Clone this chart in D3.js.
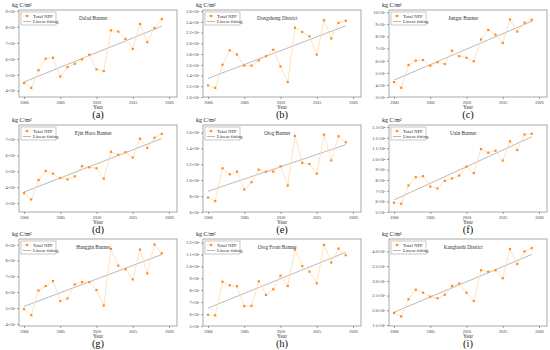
<!DOCTYPE html>
<html>
<head>
<meta charset="utf-8">
<script src="https://cdn.jsdelivr.net/npm/d3@7"></script>
<style>
  body { margin: 0; background: #fff; }
  svg, svg text { font-family: "Liberation Serif", "DejaVu Serif", serif; }
  .axis path, .axis line { stroke: #444; stroke-width: 0.5px; }
  .axis text { font-size: 4.2px; fill: #333; font-family: "Liberation Serif", serif; }
</style>
</head>
<body>
<div id="chart"></div>
<script>
// years on the x axis
var years = [2000, 2001, 2002, 2003, 2004, 2005, 2006, 2007, 2008, 2009,
             2010, 2011, 2012, 2013, 2014, 2015, 2016, 2017, 2018, 2019];

// total NPP per region (mantissa, see exponent below)
var dalad = [4.48, 4.17, 5.28, 6.0, 6.06, 4.88, 5.47, 5.68, 5.96, 6.25,
             5.33, 5.22, 7.77, 7.7, 7.24, 6.61, 8.17, 7.03, 7.92, 8.48];
var dongsheng = [1.215, 1.17, 1.6, 1.87, 1.79, 1.585, 1.585, 1.68, 1.76, 1.88,
                 1.57, 1.28, 2.29, 2.21, 2.13, 1.79, 2.43, 2.09, 2.38, 2.42];
var jungar = [4.23, 3.76, 5.64, 6.0, 6.05, 5.58, 5.87, 5.72, 6.81, 6.37,
              6.24, 5.95, 7.75, 8.53, 8.14, 7.46, 9.4, 8.4, 9.14, 9.37];
var ejinHoro = [3.63, 3.23, 4.45, 5.02, 4.85, 4.58, 4.49, 4.68, 5.32, 5.25,
                5.19, 4.54, 6.22, 6.03, 6.2, 5.86, 7.04, 6.47, 7.1, 7.34];
var otog = [0.783, 0.738, 1.15, 1.075, 1.108, 0.883, 0.975, 1.133, 1.108, 1.108,
            1.175, 0.933, 1.558, 1.22, 1.204, 1.083, 1.575, 1.25, 1.554, 1.479];
var uxin = [0.588, 0.578, 0.75, 0.828, 0.838, 0.74, 0.722, 0.794, 0.816, 0.844,
            0.928, 0.866, 1.094, 1.059, 1.078, 0.984, 1.166, 1.084, 1.231, 1.238];
var hanggin = [4.93, 4.55, 6.11, 6.39, 6.71, 5.44, 5.61, 6.49, 6.64, 6.64,
               6.14, 5.16, 8.74, 7.68, 7.45, 6.81, 8.69, 7.19, 9.01, 8.46];
var otogFront = [0.594, 0.589, 0.872, 0.842, 0.833, 0.667, 0.669, 0.875, 0.761, 0.808,
                 0.922, 0.836, 1.142, 1.003, 0.956, 0.858, 1.181, 1.033, 1.15, 1.094];
var kangbashi = [1.91, 1.795, 2.375, 2.70, 2.60, 2.466, 2.41, 2.53, 2.83, 2.91,
                 2.60, 2.32, 3.36, 3.31, 3.36, 3.09, 4.08, 3.57, 4.0, 4.11];

// panel names, letters and y axis settings
var names = ["Dalad Banner", "Dongsheng District", "Jungar Banner",
             "Ejin Horo Banner", "Otog Banner", "Uxin Banner",
             "Hanggin Banner", "Otog Front Banner", "Kangbashi District"];
var letters = ["(a)", "(b)", "(c)", "(d)", "(e)", "(f)", "(g)", "(h)", "(i)"];
var series = [dalad, dongsheng, jungar, ejinHoro, otog, uxin, hanggin, otogFront, kangbashi];
var exponents = [7, 7, 7, 7, 8, 8, 7, 8, 6];
var yDomains = [[3.6, 9.05], [1.0, 2.62], [3.0, 10.18], [2.45, 7.9], [0.6, 1.696],
                [0.5, 1.32], [3.87, 9.36], [0.5, 1.23], [1.47, 4.42]];
var yTicks = [[4, 5, 6, 7, 8, 9],
              [1.0, 1.2, 1.4, 1.6, 1.8, 2.0, 2.2, 2.4, 2.6],
              [3, 4, 5, 6, 7, 8, 9, 10],
              [3, 4, 5, 6, 7],
              [0.6, 0.8, 1.0, 1.2, 1.4, 1.6],
              [0.5, 0.6, 0.7, 0.8, 0.9, 1.0, 1.1, 1.2, 1.3],
              [4, 5, 6, 7, 8, 9],
              [0.5, 0.6, 0.7, 0.8, 0.9, 1.0, 1.1, 1.2],
              [1.5, 2.0, 2.5, 3.0, 3.5, 4.0]];
var xTicks = [2000, 2005, 2010, 2015, 2020];

var width = 550, height = 350;
var colLeft = [19, 203, 389], rowTop = [10, 125, 239];
var plotW = 158, plotH = 87;

var orange = "#ff8a1c", lightOrange = "#ffdcae", fitGray = "#a8a8a8";
var sup = {"0": "⁰", "1": "¹", "2": "²", "3": "³", "4": "⁴", "5": "⁵",
           "6": "⁶", "7": "⁷", "8": "⁸", "9": "⁹"};

var svg = d3.select("#chart").append("svg")
  .attr("width", width)
  .attr("height", height);

// tick label like 2.4×10⁷, drops to the next exponent below 1
function sciLabel(v, e, decimals) {
  if (v < 1 && e > 0) { v = v * 10; e = e - 1; decimals = 0; }
  return d3.format("." + decimals + "f")(v) + "×10" + sup[String(e)];
}

function drawPanel(i) {
  var left = colLeft[i % 3], top = rowTop[Math.floor(i / 3)];
  var vals = series[i];
  var decimals = yTicks[i].some(function(t) { return t % 1 !== 0; }) ? 1 : 0;

  var x = d3.scaleLinear().domain([2000, 2020]).range([left + 5, left + 150]);
  var y = d3.scaleLinear().domain(yDomains[i]).range([top + plotH, top]);

  var g = svg.append("g");

  // frame
  g.append("rect")
    .attr("x", left).attr("y", top)
    .attr("width", plotW).attr("height", plotH)
    .attr("fill", "none").attr("stroke", "#555").attr("stroke-width", 0.5);

  // axes
  var xa = g.append("g")
    .attr("class", "axis")
    .attr("transform", "translate(0," + (top + plotH) + ")")
    .call(d3.axisBottom(x).tickValues(xTicks).tickSize(2).tickPadding(2.5)
      .tickFormat(d3.format("d")));
  xa.select(".domain").remove();
  xa.attr("font-family", null);

  var ya = g.append("g")
    .attr("class", "axis")
    .attr("transform", "translate(" + left + ",0)")
    .call(d3.axisLeft(y).tickValues(yTicks[i]).tickSize(2).tickPadding(1.5)
      .tickFormat(function(d) { return sciLabel(d, exponents[i], decimals); }));
  ya.select(".domain").remove();
  ya.attr("font-family", null);

  // linear fitting (least squares over the data)
  var mx = d3.mean(years), my = d3.mean(vals);
  var sxy = d3.sum(years, function(t, k) { return (t - mx) * (vals[k] - my); });
  var sxx = d3.sum(years, function(t) { return (t - mx) * (t - mx); });
  var slope = sxy / sxx, icpt = my - slope * mx;
  var first = years[0], last = years[years.length - 1];
  g.append("line")
    .attr("x1", x(first)).attr("y1", y(icpt + slope * first))
    .attr("x2", x(last)).attr("y2", y(icpt + slope * last))
    .attr("stroke", fitGray).attr("stroke-width", 0.8);

  // series line and square markers
  var line = d3.line()
    .x(function(d, k) { return x(years[k]); })
    .y(function(d) { return y(d); });
  g.append("path")
    .datum(vals)
    .attr("d", line)
    .attr("fill", "none").attr("stroke", lightOrange).attr("stroke-width", 0.8);
  g.selectAll(".pt")
    .data(vals)
    .enter().append("rect")
    .attr("class", "pt")
    .attr("x", function(d, k) { return x(years[k]) - 1.1; })
    .attr("y", function(d) { return y(d) - 1.1; })
    .attr("width", 2.2).attr("height", 2.2)
    .attr("fill", orange);

  // legend
  var lx = left + 2, ly = top + 2;
  g.append("rect")
    .attr("x", lx).attr("y", ly).attr("width", 35).attr("height", 13)
    .attr("fill", "#fff").attr("stroke", "#777").attr("stroke-width", 0.4);
  g.append("line")
    .attr("x1", lx + 2).attr("x2", lx + 10).attr("y1", ly + 4).attr("y2", ly + 4)
    .attr("stroke", lightOrange).attr("stroke-width", 0.8);
  g.append("rect")
    .attr("x", lx + 4.9).attr("y", ly + 2.9).attr("width", 2.2).attr("height", 2.2)
    .attr("fill", orange);
  g.append("line")
    .attr("x1", lx + 2).attr("x2", lx + 10).attr("y1", ly + 9.5).attr("y2", ly + 9.5)
    .attr("stroke", fitGray).attr("stroke-width", 0.8);
  g.append("text")
    .attr("x", lx + 12).attr("y", ly + 5.5)
    .style("font-size", "4.8px").attr("fill", "#333")
    .text("Total NPP");
  g.append("text")
    .attr("x", lx + 12).attr("y", ly + 11)
    .style("font-size", "4.8px").attr("fill", "#333")
    .text("Linear fitting");

  // region name
  g.append("text")
    .attr("x", left + plotW * 0.47).attr("y", top + 10)
    .attr("text-anchor", "middle")
    .style("font-size", "5.2px").attr("fill", "#333")
    .text(names[i]);

  // unit, axis title and panel letter
  g.append("text")
    .attr("x", left - 7).attr("y", top - 3.5)
    .style("font-size", "6px").attr("fill", "#222")
    .text("kg C/m²");
  g.append("text")
    .attr("x", left + plotW / 2).attr("y", top + 99)
    .attr("text-anchor", "middle")
    .style("font-size", "5.4px").attr("fill", "#333")
    .text("Year");
  g.append("text")
    .attr("x", left + plotW / 2).attr("y", top + 107.5)
    .attr("text-anchor", "middle")
    .style("font-size", "10.5px").attr("fill", "#111")
    .text(letters[i]);
}

d3.range(9).forEach(drawPanel);
</script>
</body>
</html>
